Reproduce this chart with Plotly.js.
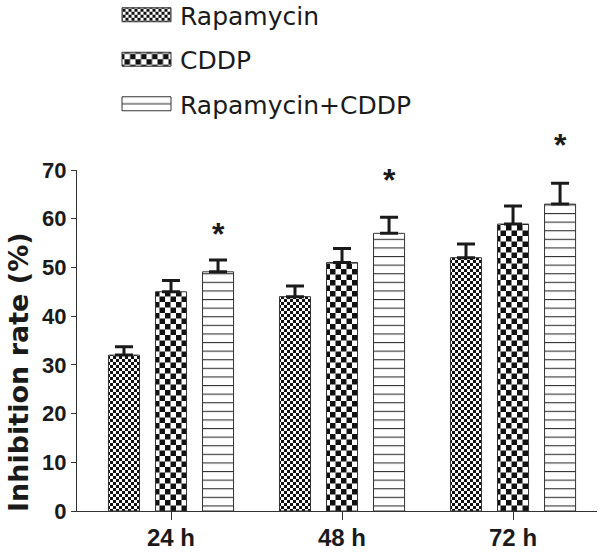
<!DOCTYPE html>
<html>
<head>
<meta charset="utf-8">
<script src="https://cdn.plot.ly/plotly-3.0.1.min.js"></script>
<style>
  html, body { margin: 0; padding: 0; background: #fff; }
  #chart { width: 602px; height: 553px; }
</style>
</head>
<body>
<div id="chart"></div>
<svg width="0" height="0" style="position:absolute">
  <defs>
    <pattern id="chkFine" patternUnits="userSpaceOnUse" width="6" height="6">
      <rect width="6" height="6" fill="#ffffff"/>
      <rect x="0" y="0" width="3" height="3" fill="#111111"/>
      <rect x="3" y="3" width="3" height="3" fill="#111111"/>
    </pattern>
    <pattern id="chkCoarse" patternUnits="userSpaceOnUse" width="11" height="11">
      <rect width="11" height="11" fill="#ffffff"/>
      <rect x="0" y="0" width="5.5" height="5.5" fill="#111111"/>
      <rect x="5.5" y="5.5" width="5.5" height="5.5" fill="#111111"/>
    </pattern>
    <pattern id="hLines" patternUnits="userSpaceOnUse" width="8" height="8.6">
      <rect width="8" height="8.6" fill="#ffffff"/>
      <rect x="0" y="0" width="8" height="1.1" fill="#333333"/>
    </pattern>
    <pattern id="hLinesLegend" patternUnits="userSpaceOnUse" width="8" height="14" x="0" y="-7">
      <rect width="8" height="14" fill="#ffffff"/>
      <rect x="0" y="6.5" width="8" height="1.1" fill="#333333"/>
    </pattern>
  </defs>
</svg>
<script>
// ---- data ----
const categories = ['24 h', '48 h', '72 h'];
const seriesNames = ['Rapamycin', 'CDDP', 'Rapamycin+CDDP'];
const rapamycin = [32.0, 44.0, 52.0];
const rapamycinErr = [1.7, 2.2, 2.8];
const cddp = [45.0, 51.0, 58.9];
const cddpErr = [2.3, 2.9, 3.7];
const combo = [49.1, 57.0, 63.0];
const comboErr = [2.4, 3.3, 4.3];
const sigText = ['*', '*', '*'];
const sigLevel = [57.4, 68.5, 75.7];
const yTicks = [0, 10, 20, 30, 40, 50, 60, 70];

// ---- styles ----
const ink = '#1a1a1a';
const bargap = 0.175;
const yRange = [0, 70];
const patterns = ['url(#chkFine)', 'url(#chkCoarse)', 'url(#hLines)'];
const legendPatterns = ['url(#chkFine)', 'url(#chkCoarse)', 'url(#hLinesLegend)'];

function barTrace(name, y, err, grp) {
  return {
    type: 'bar',
    name: name,
    x: categories,
    y: y,
    legendgroup: grp,
    marker: { color: '#ffffff', line: { color: '#333333', width: 1 } },
    error_y: {
      type: 'data', array: err, symmetric: false,
      arrayminus: err.map(() => 0),
      color: ink, thickness: 3, width: 9
    },
    hoverinfo: 'skip'
  };
}

const traces = [
  barTrace(seriesNames[0], rapamycin, rapamycinErr, 'g1'),
  barTrace(seriesNames[1], cddp, cddpErr, 'g2'),
  barTrace(seriesNames[2], combo, comboErr, 'g3')
];

// asterisks: x on the combo bar, y given in data units, mapped onto the y-axis span (paper)
const comboOffset = (1 - bargap) / 3;
const annotations = sigText.map((t, i) => ({
  x: i + comboOffset, xref: 'x',
  y: (sigLevel[i] - yRange[0]) / (yRange[1] - yRange[0]), yref: 'paper',
  xanchor: 'center', yanchor: 'middle',
  text: t, showarrow: false, yshift: -3,
  font: { family: 'Liberation Sans, Arial, sans-serif', size: 32, weight: 'bold', color: ink }
}));
annotations.push({
  xref: 'paper', yref: 'paper', x: -0.1135, y: 0.4076,
  xanchor: 'center', yanchor: 'middle', textangle: -90, showarrow: false,
  text: 'Inhibition rate (%)',
  font: { family: 'DejaVu Sans, sans-serif', size: 27, weight: 'bold', color: ink }
});

const layout = {
  width: 602, height: 553,
  margin: { l: 77, r: 5, t: 170, b: 42, autoexpand: false },
  paper_bgcolor: '#ffffff', plot_bgcolor: '#ffffff',
  barmode: 'group', bargap: bargap, bargroupgap: 0.34,
  showlegend: true,
  legend: {
    x: (113 - 77) / 520, y: 1 + 178 / 341, xanchor: 'left', yanchor: 'top',
    orientation: 'v', itemwidth: 57, tracegroupgap: 9,
    bgcolor: 'rgba(0,0,0,0)',
    font: { family: 'DejaVu Sans, sans-serif', size: 25, color: ink }
  },
  xaxis: {
    type: 'category', range: [-0.5497, 2.491],
    showline: true, linecolor: '#333333', linewidth: 1,
    ticks: 'outside', ticklen: 8, tickwidth: 1, tickcolor: '#333333',
    ticklabelstandoff: -3, automargin: false,
    showgrid: false, zeroline: false, fixedrange: true,
    tickfont: { family: 'Liberation Sans, Arial, sans-serif', size: 24, weight: 'bold', color: ink }
  },
  yaxis: {
    range: yRange, tickvals: yTicks, automargin: false,
    showline: true, linecolor: '#333333', linewidth: 1,
    ticks: 'outside', ticklen: 5, tickwidth: 1, tickcolor: '#333333',
    showgrid: false, zeroline: false, fixedrange: true,
    tickfont: { family: 'Liberation Sans, Arial, sans-serif', size: 22, weight: 'bold', color: ink }
  },
  annotations: annotations
};

Plotly.newPlot('chart', traces, layout, { staticPlot: true, displayModeBar: false }).then(function () {
  const barGroups = document.querySelectorAll('#chart .barlayer .trace');
  barGroups.forEach(function (g, i) {
    g.querySelectorAll('.point path').forEach(function (p) {
      p.style.fill = patterns[i];
    });
  });
  const legendItems = document.querySelectorAll('#chart .legend .traces');
  legendItems.forEach(function (item, i) {
    item.querySelectorAll('.legendpoints path').forEach(function (p) {
      p.setAttribute('d', 'M-24.5,7H24.5V-7H-24.5Z');
      p.style.fill = legendPatterns[i];
      p.style.stroke = '#333333';
      p.style.strokeWidth = '1px';
    });
  });
});
</script>
</body>
</html>
